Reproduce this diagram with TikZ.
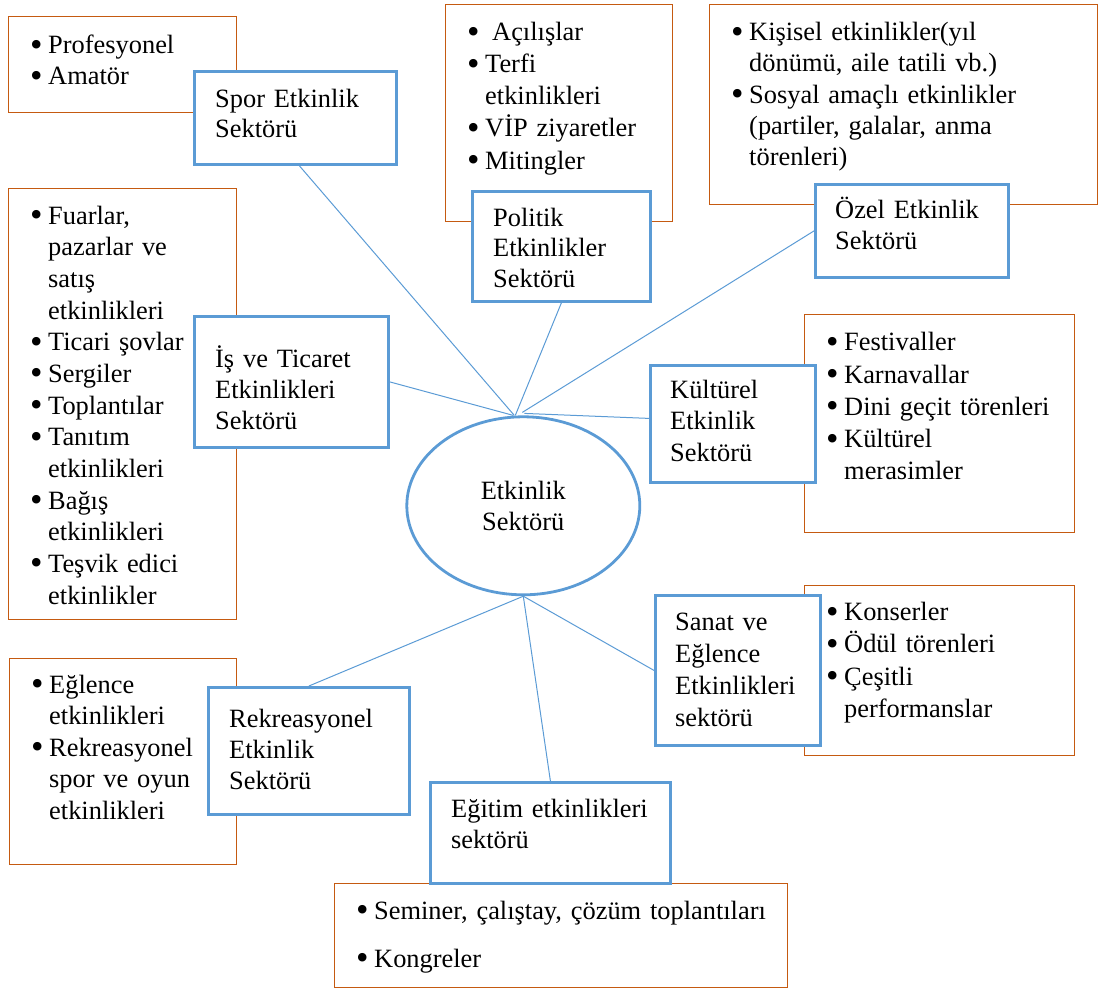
\documentclass[tikz,border=0pt]{standalone}
\usepackage{fontspec}
\setmainfont{Liberation Serif}
\usetikzlibrary{positioning,shapes.geometric}
\definecolor{boxblue}{HTML}{5B9BD5}
\definecolor{listorange}{HTML}{C55A11}
\newcommand{\bl}{\makebox[18pt][l]{\raisebox{-2.6pt}{\scalebox{1.35}{\textbullet}}}}
\newcommand{\ind}{\hspace*{18pt}}
\tikzset{lead/.style={font=\fontsize{26.4}{#1}\selectfont}}

\begin{document}
\begin{tikzpicture}[x=1pt,y=-1pt,font=\fontsize{26.4}{31.5}\selectfont]
  \tikzstyle{ob}=[draw=listorange,line width=1.4pt,fill=white,anchor=north west,inner sep=0pt]
  \tikzstyle{bb}=[draw=boxblue,line width=2.8pt,fill=white,anchor=north west,inner sep=0pt]
  \tikzstyle{tx}=[anchor=base west,inner sep=0pt,text width=420pt,align=left]
  \tikzstyle{ed}=[draw=boxblue,line width=1pt]
  \useasboundingbox (0,0) rectangle (1099,990);
  % lists
  \node [ob,minimum width=228pt,minimum height=96pt] (sporL) at (8,16) {};
  \node [tx,lead=31] (sporLT) at (30,53.5) {\bl Profesyonel\\\bl Amatör};
  \node [ob,minimum width=227pt,minimum height=217pt] (polL) at (445,4) {};
  \node [tx,lead=32] (polLT) at (467,41) {\bl\hspace{7pt}Açılışlar\\\bl Terfi\\\ind etkinlikleri\\\bl VİP ziyaretler\\\bl Mitingler};
  \node [ob,minimum width=388pt,minimum height=200pt] (ozelL) at (709,4) {};
  \node [tx,lead=31.25] (ozelLT) at (731,40.7) {\bl Kişisel etkinlikler(yıl\\\ind dönümü, aile tatili vb.)\\\bl Sosyal amaçlı etkinlikler\\\ind (partiler, galalar, anma\\\ind törenleri)};
  \node [ob,minimum width=228pt,minimum height=431pt] (isL) at (8,188) {};
  \node [tx,lead=31.67] (isLT) at (30,224) {\bl Fuarlar,\\\ind pazarlar ve\\\ind satış\\\ind etkinlikleri\\\bl Ticari şovlar\\\bl Sergiler\\\bl Toplantılar\\\bl Tanıtım\\\ind etkinlikleri\\\bl Bağış\\\ind etkinlikleri\\\bl Teşvik edici\\\ind etkinlikler};
  \node [ob,minimum width=270pt,minimum height=218pt] (kultL) at (804,314) {};
  \node [tx,lead=32.3] (kultLT) at (826,350.7) {\bl Festivaller\\\bl Karnavallar\\\bl Dini geçit törenleri\\\bl Kültürel\\\ind merasimler};
  \node [ob,minimum width=270pt,minimum height=170pt] (sanatL) at (804,585) {};
  \node [tx,lead=32.2] (sanatLT) at (826,620.7) {\bl Konserler\\\bl Ödül törenleri\\\bl Çeşitli\\\ind performanslar};
  \node [ob,minimum width=227pt,minimum height=206pt] (rekL) at (9,658) {};
  \node [tx,lead=31.5] (rekLT) at (31,693.3) {\bl Eğlence\\\ind etkinlikleri\\\bl Rekreasyonel\\\ind spor ve oyun\\\ind etkinlikleri};
  \node [ob,minimum width=453pt,minimum height=104pt] (egitimL) at (334,883) {};
  \node [tx,lead=31.5] (egitimLT) at (356,919) {\bl Seminer, çalıştay, çözüm toplantıları\\[16.5pt]\bl Kongreler};
  % sectors
  \node [bb,minimum width=202pt,minimum height=93pt] (spor) at (193,70) {};
  \node [tx,lead=30] (sporT) at (215,107) {Spor Etkinlik\\Sektörü};
  \node [bb,minimum width=178pt,minimum height=110pt] (pol) at (471,190) {};
  \node [tx,lead=30.5] (polT) at (493,226) {Politik\\Etkinlikler\\Sektörü};
  \node [bb,minimum width=193pt,minimum height=93pt] (ozel) at (814,183) {};
  \node [tx,lead=31] (ozelT) at (835,218.3) {Özel Etkinlik\\Sektörü};
  \node [bb,minimum width=194pt,minimum height=131pt] (is) at (193,315) {};
  \node [tx,lead=31] (isT) at (215,367) {İş ve Ticaret\\Etkinlikleri\\Sektörü};
  \node [bb,minimum width=165pt,minimum height=117pt] (kult) at (649,364) {};
  \node [tx,lead=31.5] (kultT) at (670,398) {Kültürel\\Etkinlik\\Sektörü};
  \node [bb,minimum width=165pt,minimum height=150pt] (sanat) at (654,594) {};
  \node [tx,lead=32] (sanatT) at (675,630) {Sanat ve\\Eğlence\\Etkinlikleri\\sektörü};
  \node [bb,minimum width=201pt,minimum height=127pt] (rek) at (207,686) {};
  \node [tx,lead=31] (rekT) at (229,727.3) {Rekreasyonel\\Etkinlik\\Sektörü};
  \node [bb,minimum width=240pt,minimum height=101pt] (egitim) at (429,781) {};
  \node [tx,lead=31.3] (egitimT) at (451,817) {Eğitim etkinlikleri\\sektörü};
  % center
  \node [draw=boxblue,line width=2.8pt,fill=white,ellipse,minimum width=233pt,minimum height=178pt,inner sep=0pt,align=center] (hub) at (523.3,505.8) {Etkinlik\\Sektörü};
  \draw [ed] ([xshift=4pt]spor.south) -- ([xshift=-9pt]hub.north);
  \draw [ed] (pol.south) -- ([xshift=-8pt]hub.north);
  \draw [ed] (ozel.west) -- ([xshift=-1pt,yshift=3pt]hub.north);
  \draw [ed] (is.east) -- ([xshift=-10pt]hub.north);
  \draw [ed] ([yshift=5.5pt]kult.west) -- ([xshift=1pt,yshift=2pt]hub.north);
  \draw [ed] (sanat.west) -- (hub.south);
  \draw [ed] (rek.north) -- (hub.south);
  \draw [ed] (egitim.north) -- (hub.south);
\end{tikzpicture}
\end{document}
